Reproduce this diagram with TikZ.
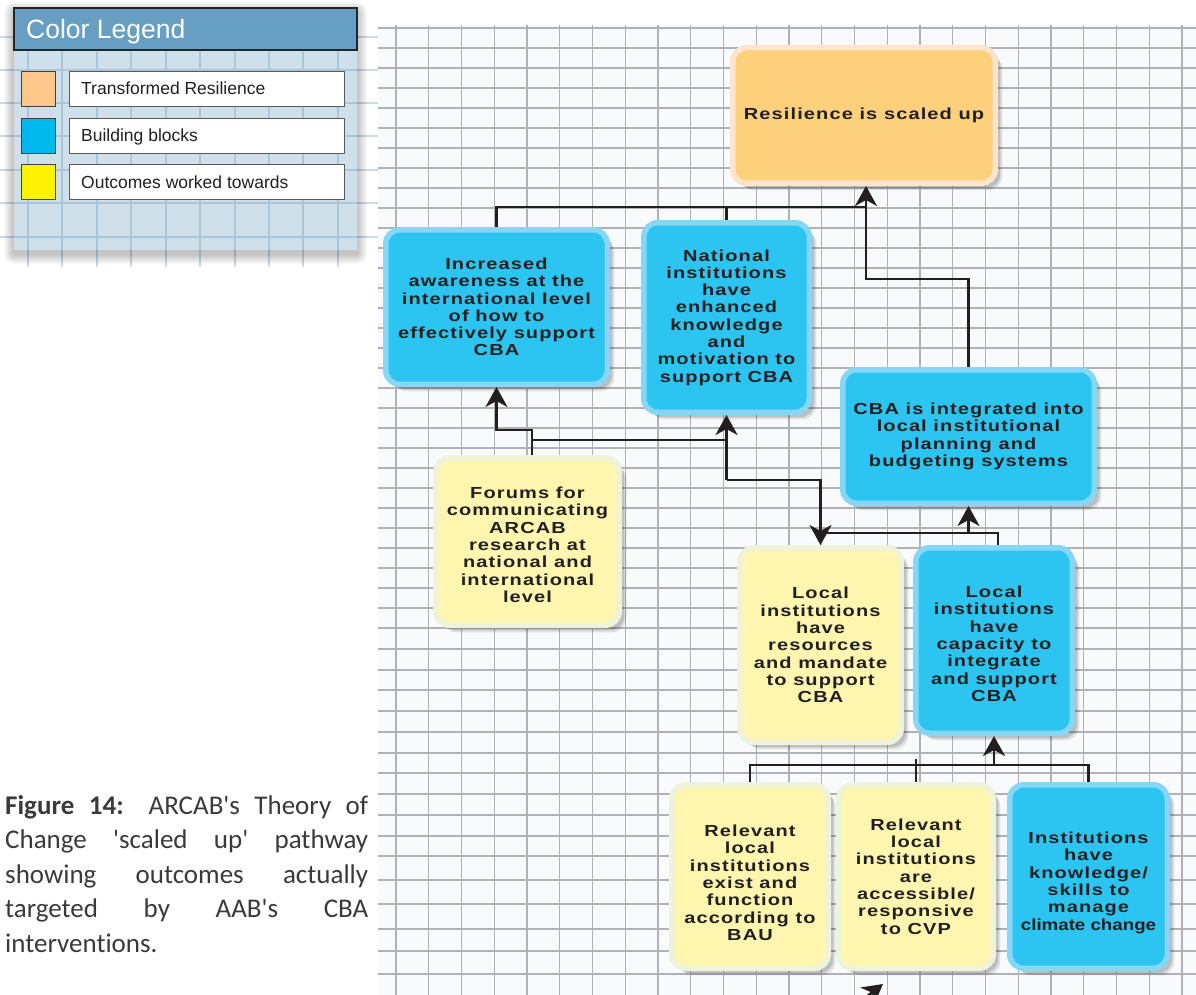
\documentclass[tikz,border=0pt]{standalone}
\usepackage{fontspec}
\setmainfont{Liberation Sans}
\newfontfamily\boxfont{Liberation Sans}[FakeStretch=1.25,LetterSpace=7]
\newfontfamily\capfont{Carlito}[Ligatures=NoCommon]
\usetikzlibrary{arrows.meta,shadows}
\newcommand\vpush[1]{\rule{0pt}{#1pt}}
\definecolor{gridbg}{HTML}{F8FAFC}
\definecolor{gridln}{HTML}{B0B1B6}
\definecolor{bluefill}{HTML}{2CC4F1}
\definecolor{blueglow}{HTML}{86D6F6}
\definecolor{yelfill}{HTML}{FEF5AF}
\definecolor{yelglow}{HTML}{EEF3D9}
\definecolor{orafill}{HTML}{FDD17B}
\definecolor{oraglow}{HTML}{FDE4CB}
\definecolor{ink}{HTML}{231F20}
\definecolor{lgpanel}{HTML}{CFE0EA}
\definecolor{lgline}{HTML}{A9C6DA}
\definecolor{lglinefade}{HTML}{C9DBE7}
\definecolor{lghead}{HTML}{679FC3}
\definecolor{swora}{HTML}{FBC78B}
\definecolor{swblue}{HTML}{00B8EE}
\definecolor{swyel}{HTML}{FFF200}
\definecolor{captxt}{HTML}{3A3A3A}
\begin{document}
\begin{tikzpicture}[x=1pt,y=-1pt,
  box/.style={rectangle, rounded corners=14pt, line width=5.5pt, align=center, inner sep=0pt, text=ink,
    font=\boxfont\bfseries\fontsize{16}{17.3}\selectfont,
    drop shadow={shadow xshift=7pt, shadow yshift=-7pt, opacity=0.10, fill=black},
    drop shadow={shadow xshift=5pt, shadow yshift=-5pt, opacity=0.15, fill=black}},
  bluebox/.style={box, draw=blueglow, fill=bluefill},
  yelbox/.style={box, draw=yelglow, fill=yelfill},
  orabox/.style={box, draw=oraglow, fill=orafill},
  conn/.style={draw=ink, line width=2.6pt},
  arr/.style={conn, -{Stealth[length=20pt,width=22pt,inset=6pt]}},
  gline/.style={draw=gridln, line width=1.3pt},
  lgl/.style={draw=lgline, line width=1.3pt},
  lglf/.style={draw=lglinefade, line width=1.3pt},
  swatch/.style={draw=black!75, line width=1pt, minimum width=34pt, minimum height=35pt, inner sep=0pt},
  lbox/.style={draw=black!65, fill=white, line width=1pt, minimum width=275pt, minimum height=35pt, inner sep=0pt},
  lgtext/.style={anchor=base west, inner sep=0pt, text=ink, font=\fontsize{17.5}{20}\selectfont},
]
\useasboundingbox (0,0) rectangle (1196,995);
\clip (0,0) rectangle (1196,995);
\fill[white] (0,0) rectangle (1196,995);

% main grid
\fill[gridbg] (378,25) rectangle (1196,995);
\foreach \i in {0,...,24} \draw[gline] ({396+32.75*\i},25) -- ({396+32.75*\i},995);
\foreach \y in {28,48,...,608} \draw[gline] (378,\y) -- (1196,\y);
\foreach \y in {628,649,670,690,711,732,753,773,794,815,836,856,880,904,929,951,974} \draw[gline] (378,\y) -- (1196,\y);

% legend
\foreach \y in {37,70,103,136,170,203,237} \draw[lglf] (0,\y) -- (378,\y);
\foreach \x in {28,62,97,131,166,200,235,269,303,338} \draw[lglf] (\x,250) -- (\x,267);
\foreach \k in {1,...,10} \fill[black, opacity=0.025, rounded corners=\k pt] ({14-\k},{8-\k+4}) rectangle ({357+\k},{250+\k+4});
\fill[lgpanel] (14,8) rectangle (357,250);
\foreach \y in {70,103,136,170,203,237} \draw[lgl] (14,\y) -- (357,\y);
\foreach \x in {28,62,97,131,166,200,235,269,303,338} \draw[lgl] (\x,50) -- (\x,250);
\node[draw=black!85, fill=lghead, line width=1.2pt, minimum width=343pt, minimum height=42pt, inner sep=0pt] (lghd) at (185.5,29) {};
\node[anchor=base west, text=white, font=\fontsize{26.5}{30}\selectfont, inner sep=0pt] (lgtitle) at (26,38.3) {Color Legend};
\node[swatch, fill=swora] (sw1) at (38,89.5) {};
\node[swatch, fill=swblue] (sw2) at (38,136) {};
\node[swatch, fill=swyel] (sw3) at (38,182.5) {};
\node[lbox] (lb1) at (206.5,89.5) {};
\node[lbox] (lb2) at (206.5,136) {};
\node[lbox] (lb3) at (206.5,182.5) {};
\node[lgtext] (lt1) at (81,95) {Transformed Resilience};
\node[lgtext] (lt2) at (81,141.7) {Building blocks};
\node[lgtext] (lt3) at (81,188.3) {Outcomes worked towards};

% caption
\node[anchor=north west, inner sep=0pt, text width=363pt, align=justify, text=captxt,
  font=\capfont\fontsize{27}{34.5}\selectfont] (cap) at (5,795)
  {\textbf{Figure 14:} ARCAB\textquotesingle s Theory of\linebreak Change \textquotesingle scaled up\textquotesingle{} pathway\linebreak showing outcomes actually\linebreak targeted by AAB\textquotesingle s CBA\linebreak interventions.};

% boxes
\node[orabox, minimum width=262.5pt, minimum height=135.5pt] (res) at (864,115.5) {Resilience is scaled up};
\node[bluebox, minimum width=221.5pt, minimum height=154.5pt] (aware) at (496.5,307) {Increased\\awareness at the\\international level\\of how to\\effectively support\\CBA};
\node[bluebox, minimum width=165.5pt, minimum height=189.5pt] (natl) at (726.5,317.5) {National\\institutions\\have\\enhanced\\knowledge\\and\\motivation to\\support CBA};
\node[bluebox, minimum width=251.5pt, minimum height=133.5pt] (integ) at (968.5,436.5) {CBA is integrated into\\local institutional\\planning and\\budgeting systems};
\node[yelbox, minimum width=183.5pt, minimum height=167.5pt] (forum) at (527.5,541.5) {\vpush{18}Forums for\\communicating\\ARCAB\\research at\\national and\\international\\level};
\node[yelbox, minimum width=161.5pt, minimum height=194.5pt] (locres) at (820.5,645) {Local\\institutions\\have\\resources\\and mandate\\to support\\CBA};
\node[bluebox, minimum width=156.5pt, minimum height=185.5pt] (loccap) at (994,640.5) {\vpush{18}Local\\institutions\\have\\capacity to\\integrate\\and support\\CBA};
\node[yelbox, minimum width=156.5pt, minimum height=183.5pt] (bau) at (750,876.5) {\vpush{24}Relevant\\local\\institutions\\exist and\\function\\according to\\BAU};
\node[yelbox, minimum width=154.5pt, minimum height=183.5pt] (cvp) at (916,876.5) {Relevant\\local\\institutions\\are\\accessible/\\responsive\\to CVP};
\node[bluebox, minimum width=157.5pt, minimum height=183.5pt] (know) at (1088.5,876.5) {\vpush{24}Institutions\\have\\knowledge/\\skills to\\manage\\{\addfontfeatures{FakeStretch=1.17,LetterSpace=0}climate change}};

% connectors
\coordinate (jr) at (866,207);
\coordinate (jr2) at (866,279);
\draw[conn] (aware.north) |- (jr);
\draw[conn] (natl.north) -- (natl.north |- jr);
\draw[arr] (integ.north) |- (jr2) -- (jr2 |- res.south);

\coordinate (fa) at (532,430);
\coordinate (fb) at (532,440);
\coordinate (mj) at (726.5,480);
\draw[arr] ([xshift=4.5pt]forum.north) -- (fa) -| (aware.south);
\draw[conn] (fb) -- (fb -| natl.south);
\draw[conn] (fb -| natl.south) -- (mj);
\draw[arr] (mj) -- (natl.south);
\draw[arr] (mj) -| (locres.north);

\coordinate (cj) at (998,533);
\draw[conn] ([xshift=4pt]loccap.north) -- (cj) -- (cj -| locres.north);
\draw[arr] (cj -| integ.south) -- (integ.south);

\coordinate (bj) at (750,765);
\coordinate (ct) at (916,759);
\draw[conn] (bau.north) |- (bj -| know.north) -- (know.north);
\draw[conn] (cvp.north |- ct) -- (cvp.north);
\draw[arr] (bj -| loccap.south) -- (loccap.south);

\coordinate (q1) at (852,1008);
\coordinate (q2) at (883,984);
\draw[arr] (q1) -- (q2);
\end{tikzpicture}
\end{document}
